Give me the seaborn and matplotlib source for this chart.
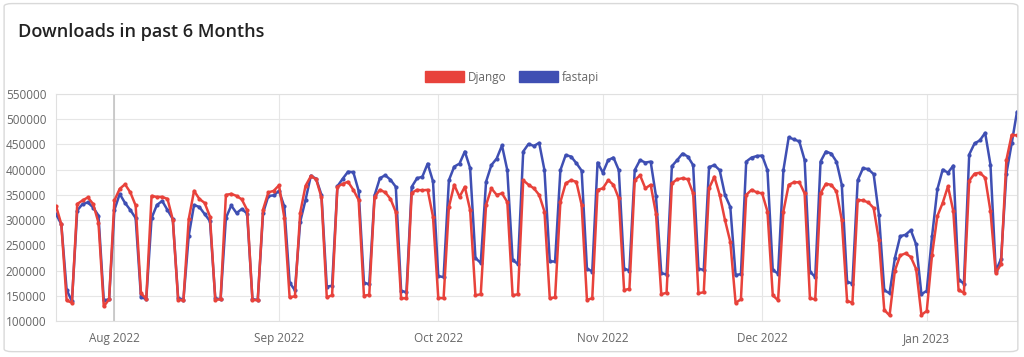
import pandas as pd
import matplotlib.pyplot as plt
import matplotlib.dates as mdates
from matplotlib.patches import Patch, FancyBboxPatch
import seaborn as sns

# daily downloads (thousands), 2022-07-21 .. 2023-01-18
django_jul = [328, 292, 141, 136, 332, 339, 345, 332, 295, 129, 143]
django_aug = [339, 362, 371, 355, 329, 155, 144, 348, 346, 346, 342, 301, 142, 141,
              302, 358, 342, 334, 307, 142, 143, 350, 352, 348, 341, 320, 142, 141,
              321, 355, 358]
django_sep = [369, 305, 147, 149, 315, 368, 387, 381, 345, 147, 151, 366, 372, 376,
              360, 340, 150, 152, 346, 360, 355, 342, 316, 145, 145, 354, 360, 359,
              360, 307]
django_oct = [146, 145, 326, 370, 346, 366, 320, 151, 153, 330, 363, 350, 353, 336,
              151, 153, 379, 370, 363, 350, 317, 145, 147, 336, 373, 379, 376, 330,
              142, 145, 360]
django_nov = [363, 379, 370, 343, 161, 164, 379, 389, 363, 370, 313, 153, 156, 373,
              381, 383, 381, 353, 155, 157, 363, 386, 350, 300, 257, 136, 143, 350,
              360, 355]
django_dec = [353, 317, 151, 141, 317, 370, 375, 375, 353, 145, 143, 353, 372, 370,
              357, 300, 140, 136, 340, 339, 335, 324, 260, 122, 111, 200, 230, 234,
              227, 203, 112]
django_jan = [120, 231, 308, 334, 367, 318, 161, 156, 378, 392, 394, 384, 318, 195,
              213, 419, 469, 468]

fastapi_jul = [312, 292, 162, 139, 319, 332, 335, 325, 309, 141, 143]
fastapi_aug = [320, 352, 334, 320, 304, 148, 143, 304, 330, 338, 320, 302, 146, 142,
               269, 330, 326, 312, 298, 145, 143, 304, 329, 314, 322, 313, 143, 142,
               314, 348, 349]
fastapi_sep = [358, 327, 176, 161, 297, 340, 388, 382, 350, 168, 170, 367, 382, 396,
               395, 358, 176, 173, 349, 383, 389, 380, 366, 160, 157, 366, 383, 386,
               412, 377]
fastapi_oct = [189, 187, 379, 406, 412, 436, 403, 225, 215, 376, 409, 422, 448, 399,
               221, 213, 436, 451, 447, 453, 399, 218, 218, 399, 429, 426, 413, 398,
               204, 198, 414]
fastapi_nov = [394, 419, 424, 399, 204, 200, 399, 419, 414, 416, 348, 195, 192, 407,
               419, 432, 426, 409, 204, 201, 405, 409, 399, 350, 326, 191, 193, 416,
               424, 427]
fastapi_dec = [428, 399, 201, 194, 399, 464, 460, 456, 419, 198, 187, 416, 436, 432,
               416, 370, 178, 174, 379, 403, 401, 391, 310, 161, 155, 225, 268, 271,
               280, 252, 153]
fastapi_jan = [160, 268, 361, 400, 394, 408, 182, 174, 430, 452, 458, 473, 410, 199,
               223, 392, 452, 515]

django = django_jul + django_aug + django_sep + django_oct + django_nov + django_dec + django_jan
fastapi = fastapi_jul + fastapi_aug + fastapi_sep + fastapi_oct + fastapi_nov + fastapi_dec + fastapi_jan
dates = pd.date_range("2022-07-21", "2023-01-18", freq="D")

colors = {"Django": "#e8423b", "fastapi": "#3f4fb3"}

# fastapi first so Django ends up drawn on top, like the original
df = pd.concat([
    pd.DataFrame({"date": dates, "downloads": [v * 1000 for v in fastapi], "package": "fastapi"}),
    pd.DataFrame({"date": dates, "downloads": [v * 1000 for v in django], "package": "Django"}),
])

sns.set_style("white")
plt.rcParams["font.family"] = ["Open Sans", "DejaVu Sans"]

fig = plt.figure(figsize=(10.24, 3.57), dpi=100)
ax = fig.add_axes([56 / 1024, 36 / 357, 961 / 1024, 227 / 357])

sns.lineplot(data=df, x="date", y="downloads", hue="package", palette=colors,
             marker="o", markersize=3, markeredgewidth=0, linewidth=1.8, ax=ax,
             legend=False, zorder=3)

ax.set_xlim(dates[0], dates[-1])
ax.set_ylim(100000, 550000)
ax.set_yticks(range(100000, 550001, 50000))
ax.yaxis.set_major_formatter(plt.FuncFormatter(lambda v, p: f"{int(v)}"))
ax.xaxis.set_major_locator(mdates.MonthLocator())
ax.xaxis.set_major_formatter(mdates.DateFormatter("%b %Y"))
ax.set_xlabel("")
ax.set_ylabel("")
ax.grid(True, color="#e6e6e6", linewidth=0.8)
ax.axvline(pd.Timestamp("2022-08-01"), color="#c4c4c4", linewidth=1.2, zorder=2)
for s in ax.spines.values():
    s.set_color("#e0e0e0")
    s.set_linewidth(0.8)
ax.tick_params(axis="both", colors="#e0e0e0", labelcolor="#666666", labelsize=8.5,
               length=5, width=0.8)
ax.tick_params(axis="y", pad=2)
ax.tick_params(axis="x", pad=3)

handles = [Patch(facecolor=colors[k], edgecolor=colors[k], label=k) for k in ["Django", "fastapi"]]
fig.legend(handles=handles, loc="center", bbox_to_anchor=(0.5, 1 - 77 / 357), ncol=2,
           frameon=False, handlelength=3.3, handleheight=1.0, handletextpad=0.4,
           columnspacing=1.0, fontsize=8.5, labelcolor="#666666", borderaxespad=0)

fig.text(18 / 1024, 1 - 32 / 357, "Downloads in past 6 Months", fontsize=13,
         fontweight="semibold", color="#222222", va="center", ha="left")

card = FancyBboxPatch((0.004, 0.015), 0.99, 0.975, boxstyle="round,pad=0,rounding_size=0.008",
                      transform=fig.transFigure, facecolor="none", edgecolor="#d9d9d9",
                      linewidth=1.0)
fig.patches.append(card)

fig.savefig("out.png", dpi=100)
